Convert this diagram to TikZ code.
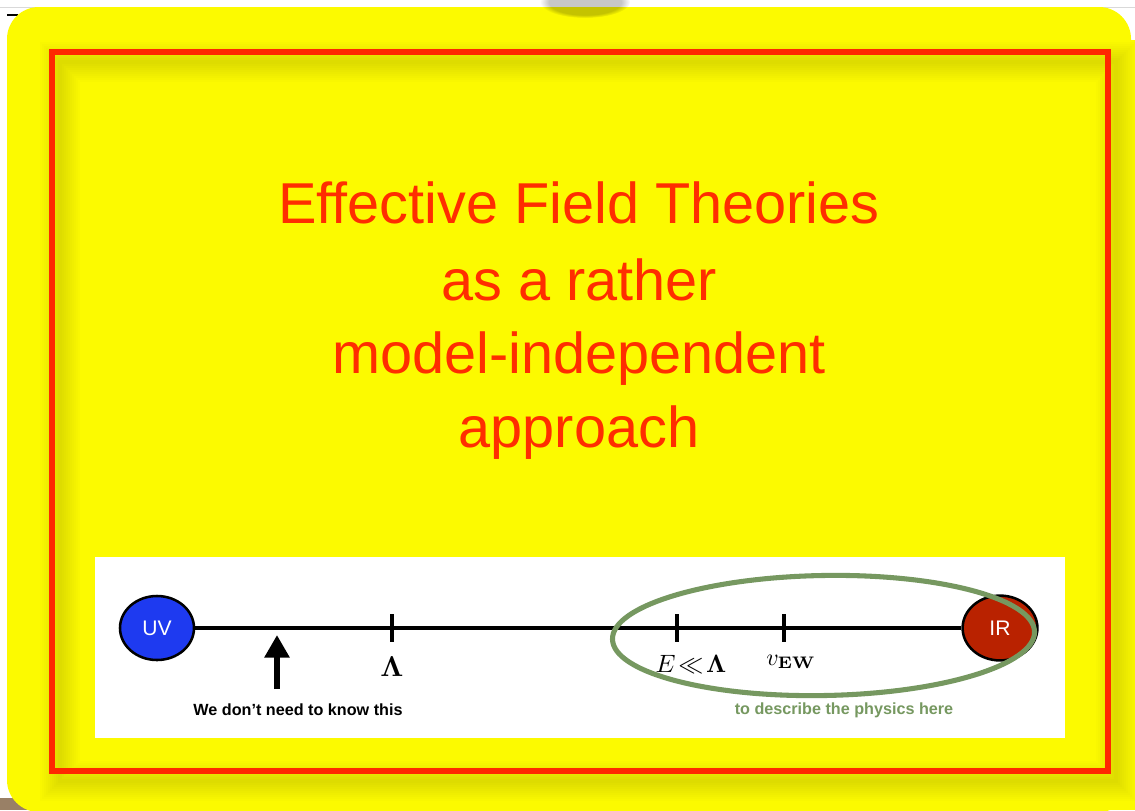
\documentclass[tikz,border=0pt]{standalone}
\usepackage[no-math]{fontspec}
\newfontfamily\helv{Liberation Sans}
\usetikzlibrary{arrows.meta,shapes.geometric,fadings}
\definecolor{slideyellow}{RGB}{252,250,0}
\definecolor{framered}{RGB}{255,40,0}
\definecolor{titlered}{RGB}{255,45,0}
\definecolor{uvblue}{RGB}{30,58,240}
\definecolor{irred}{RGB}{185,34,0}
\definecolor{ewgreen}{RGB}{118,152,96}
\tikzset{
  titletext/.style={font=\helv\fontsize{41}{49}\selectfont, text=titlered, anchor=base},
  scaleend/.style={ellipse, draw=black, line width=1.8pt, inner sep=0pt,
    minimum width=1.85cm, minimum height=1.6cm, text=white,
    font=\helv\fontsize{15}{17}\selectfont},
  tickmark/.style={fill=black, inner sep=0pt, minimum width=2.6pt, minimum height=0.7cm},
  scalelabel/.style={font=\normalsize, scale=1.7, inner sep=1pt}
}
\begin{document}
\begin{tikzpicture}[x=0.025cm,y=-0.025cm,font=\helv\bfseries\fontsize{11.5}{13}\selectfont]
\useasboundingbox (0,0) rectangle (1135,810);
\fill[white] (0,0) rectangle (1135,810);
\draw[gray!30] (0,7.5) -- (1135,7.5);
\fill[gray!60!brown] (0,798) rectangle (30,810);
\draw[line width=0.8pt] (7,15) -- (18,15);
\fill[slideyellow,rounded corners=0.8cm] (7,7) rectangle (1131,812);
\fill[slideyellow] (600,40) rectangle (1135,810);
\fill[black,opacity=0.22,path fading=circle with fuzzy edge 20 percent] (585,2) ellipse (45 and 16);
\foreach \w in {4,8,...,40}
  \draw[black,opacity=0.013,line width=\w*0.71pt] (60,62) rectangle (1116,781);
\draw[framered,line width=3.6pt] (52,52) rectangle (1108,771);
\node[titletext] (title1) at (579,223) {Effective Field Theories};
\node[titletext] (title2) at (579,300) {as a rather};
\node[titletext] (title3) at (579,373) {model-independent};
\node[titletext] (title4) at (579,447) {approach};
\fill[white] (95,557) rectangle (1065,738);
\node[scaleend,fill=uvblue] (uv) at (157,628) {UV};
\node[scaleend,fill=irred,minimum width=1.87cm,minimum height=1.62cm] (ir) at (1000,628) {IR};
\draw[line width=2.6pt] (uv) -- (ir);
\node[tickmark] (lam) at (392,628) {};
\node[tickmark] (elow) at (677,628) {};
\node[tickmark] (vew) at (784,628) {};
\node[scalelabel,scale=1.2] (lamlabel) at (392,667) {$\mathbf{\Lambda}$};
\node[scalelabel,scale=1.05] (elowlabel) at (691,664) {$E\mkern-3mu\ll\mkern-3mu\mathbf{\Lambda}$};
\node[scalelabel] (vewlabel) at (791,662) {$v_{\mathbf{EW}}$};
\coordinate (arrowfoot) at (277,689);
\coordinate (arrowtip) at (277,635);
\draw[-{Triangle[width=17pt,length=16pt]},line width=4.6pt] (arrowfoot) -- (arrowtip);
\node (knowlabel) at (298,710) {We don’t need to know this};
\node[ellipse,draw=ewgreen,line width=3.6pt,minimum width=10.55cm,minimum height=3.0cm,rotate=1] (irregion) at (823.5,635.5) {};
\node[text=ewgreen] (herelabel) at (844,710) {to describe the physics here};
\end{tikzpicture}
\end{document}
